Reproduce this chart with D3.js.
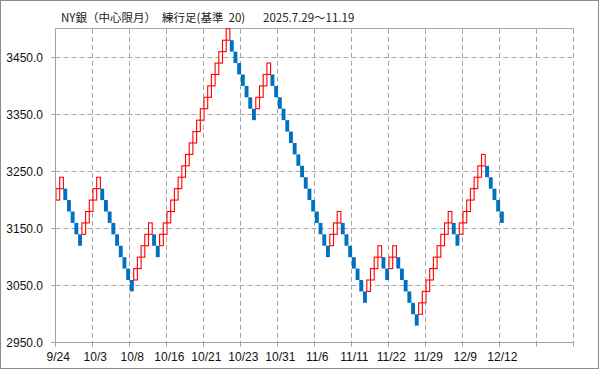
<!DOCTYPE html>
<html><head><meta charset="utf-8">
<script src="https://cdn.jsdelivr.net/npm/d3@7/dist/d3.min.js"></script>
<style>
html,body{margin:0;padding:0;background:#fff;}
svg{display:block;}
</style></head>
<body>
<svg id="c" width="599" height="369"></svg>
<script>
// Brick bottoms (box size 20) and direction (1 = up / red, 0 = down / blue)
const brickLow = [
 3200,3220,3200,3180,3160,3140,3120,3140,3160,3180,
 3200,3220,3200,3180,3160,3140,3120,3100,3080,3060,
 3040,3060,3080,3100,3120,3140,3120,3100,3120,3140,
 3160,3180,3200,3220,3240,3260,3280,3300,3320,3340,
 3360,3380,3400,3420,3440,3460,3480,3460,3440,3420,
 3400,3380,3360,3340,3360,3380,3400,3420,3400,3380,
 3360,3340,3320,3300,3280,3260,3240,3220,3200,3180,
 3160,3140,3120,3100,3120,3140,3160,3140,3120,3100,
 3080,3060,3040,3020,3040,3060,3080,3100,3080,3060,
 3080,3100,3080,3060,3040,3020,3000,2980,3000,3020,
 3040,3060,3080,3100,3120,3140,3160,3140,3120,3140,
 3160,3180,3200,3220,3240,3260,3240,3220,3200,3180,
 3160
];
const brickDir = [
 1,1,0,0,0,0,0,1,1,1,
 1,1,0,0,0,0,0,0,0,0,
 0,1,1,1,1,1,0,0,1,1,
 1,1,1,1,1,1,1,1,1,1,
 1,1,1,1,1,1,1,0,0,0,
 0,0,0,0,1,1,1,1,0,0,
 0,0,0,0,0,0,0,0,0,0,
 0,0,0,0,1,1,1,0,0,0,
 0,0,0,0,1,1,1,1,0,0,
 1,1,0,0,0,0,0,0,1,1,
 1,1,1,1,1,1,1,0,0,1,
 1,1,1,1,1,1,0,0,0,0,
 0
];
const boxSize = 20;
const xTickLabels = ["9/24","10/3","10/8","10/16","10/21","10/23","10/31","11/6","11/11","11/22","11/29","12/9","12/12","",""];
const yTicks = [2950,3050,3150,3250,3350,3450];
const titleParts = ["NY銀（中心限月）","練行足(基準  20)","2025.7.29～11.19"];

const svg = d3.select("#c");
const nCols = 140;
const x = d3.scaleLinear().domain([0, nCols]).range([55.3, 573.3]);
const y = d3.scaleLinear().domain([2950, 3500]).range([342.8, 28.8]);
const crisp = v => Math.round(v - 0.5) + 0.5;

// outer border
svg.append("rect").attr("x",0.5).attr("y",0.5).attr("width",598).attr("height",368)
  .attr("fill","#fff").attr("stroke","#8c8c8c");

// grid
const grid = svg.append("g");
yTicks.slice(1).forEach(v => {
  grid.append("line").attr("x1",x(0)).attr("x2",x(nCols))
    .attr("y1",crisp(y(v))).attr("y2",crisp(y(v)))
    .attr("stroke","#a6a6a6").attr("stroke-dasharray","5,3");
});
d3.range(10, nCols+1, 10).forEach(i => {
  grid.append("line").attr("x1",crisp(x(i))).attr("x2",crisp(x(i)))
    .attr("y1",y(3500)).attr("y2",y(2950))
    .attr("stroke","#a6a6a6").attr("stroke-dasharray","5,3");
});
// top border
svg.append("line").attr("x1",crisp(x(0))).attr("x2",crisp(x(nCols)))
  .attr("y1",crisp(y(3500))).attr("y2",crisp(y(3500))).attr("stroke","#a6a6a6");

// bricks
const w = x(1) - x(0);
const bricks = brickLow.map((v,i) => ({i, low:v, up:brickDir[i]}));
const g = svg.append("g");
g.selectAll("rect.dn").data(bricks.filter(d=>!d.up)).join("rect")
  .attr("x", d => x(d.i)+0.6).attr("width", w+0.2)
  .attr("y", d => y(d.low+boxSize)).attr("height", d => y(d.low)-y(d.low+boxSize))
  .attr("fill","#0070c0");
g.selectAll("rect.upb").data(bricks.filter(d=>d.up)).join("rect")
  .attr("x", d => x(d.i)+0.7).attr("width", w)
  .attr("y", d => y(d.low+boxSize)).attr("height", d => y(d.low)-y(d.low+boxSize))
  .attr("fill","#fff").attr("stroke","#ff0000").attr("stroke-width",1.1);

// axes
const yAxisX = crisp(x(0));
const baseY = crisp(y(2950));
svg.append("line").attr("x1",yAxisX).attr("x2",yAxisX).attr("y1",crisp(y(3500))).attr("y2",baseY+4)
  .attr("stroke","#a0a0a0");
svg.append("line").attr("x1",yAxisX-4).attr("x2",crisp(x(nCols))).attr("y1",baseY).attr("y2",baseY)
  .attr("stroke","#a0a0a0");
d3.range(0, nCols+1, 10).forEach(i => {
  svg.append("line").attr("x1",crisp(x(i))).attr("x2",crisp(x(i))).attr("y1",baseY).attr("y2",baseY+4)
    .attr("stroke","#a0a0a0");
});
yTicks.forEach(v => {
  svg.append("line").attr("x1",yAxisX-4).attr("x2",yAxisX).attr("y1",crisp(y(v))).attr("y2",crisp(y(v)))
    .attr("stroke","#a0a0a0");
  svg.append("text").attr("x",43).attr("y",y(v)+4.3).attr("text-anchor","end")
    .attr("font-family","Liberation Sans, Arial, sans-serif").attr("font-size","12px")
    .attr("fill","#111").text(v.toFixed(1));
});
xTickLabels.forEach((t,k) => {
  if (!t) return;
  svg.append("text").attr("x",x(k*10)+3).attr("y",361).attr("text-anchor","middle")
    .attr("font-family","Liberation Sans, Arial, sans-serif").attr("font-size","12px")
    .attr("fill","#111").text(t);
});

// title
const titleX = [61, 162, 263];
titleParts.forEach((t,k) => {
  svg.append("text").attr("x",titleX[k]).attr("y",22)
    .attr("font-family","Noto Sans CJK JP, sans-serif").attr("font-size","11.5px")
    .attr("fill","#222").attr("xml:space","preserve").style("white-space","pre").text(t);
});
</script>
</body></html>
